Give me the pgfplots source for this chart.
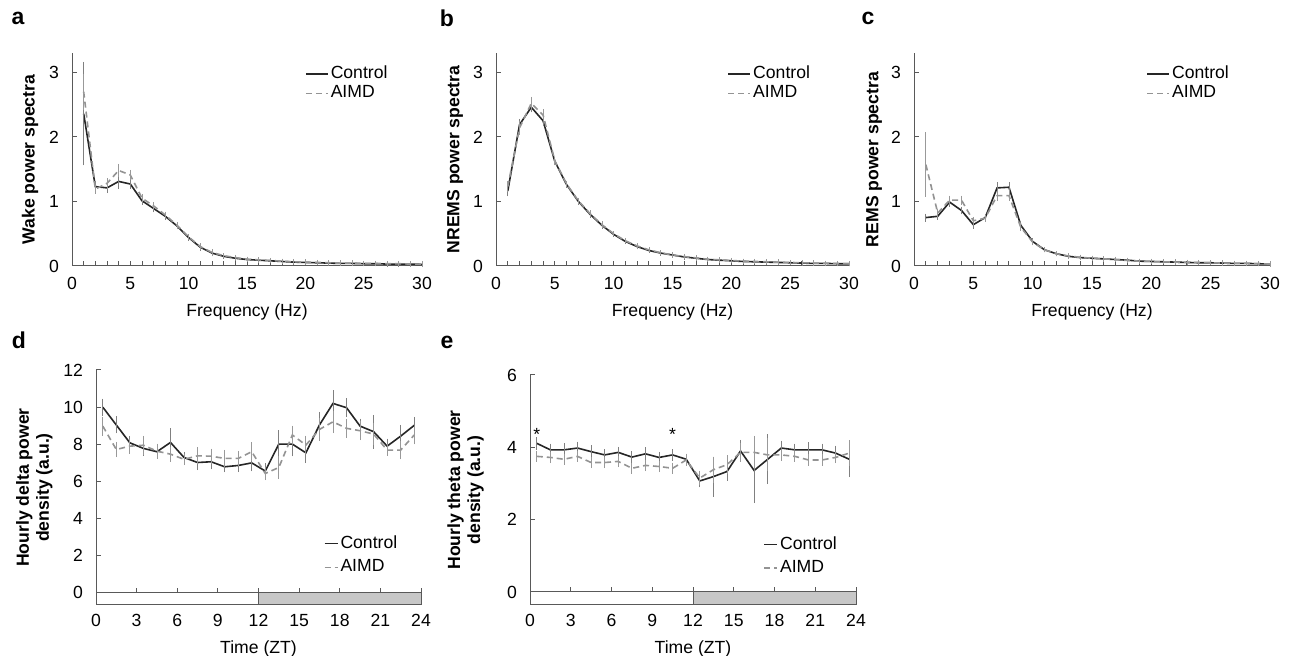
\documentclass[border=0pt]{standalone}
\usepackage{fontspec}
\setmainfont{Liberation Sans}
\usepackage{pgfplots}
\pgfplotsset{compat=1.18}
\newcommand\fnt{\fontsize{8.8}{10}\selectfont}

\pgfplotsset{
  base/.style={scale only axis, axis lines=left, clip=false,
    axis line style={black!65, line width=0.5pt, -},
    tick align=inside, major tick length=2.5pt, minor tick length=2.5pt,
    tick style={black!65, line width=0.5pt},
    tick label style={font=\fnt}, label style={font=\fnt},
    ylabel style={font=\fnt\bfseries, anchor=center},
    yticklabel style={xshift=-3pt},
    /pgf/number format/assume math mode=true,
    legend style={draw=none, fill=none, font=\fnt, inner sep=0pt,
      nodes={inner xsep=1pt, inner ysep=0.6pt}, cells={anchor=west}, anchor=north west}},
  spec/.style={base, width=175pt, height=106.5pt, xmin=0, xmax=30, ymin=0, ymax=3.3,
    xtick={0,5,...,30}, minor x tick num=4, ytick={0,1,2,3},
    xlabel={Frequency (Hz)},
    xticklabel style={yshift=-2pt},
    legend style={row sep=0.9pt},
    legend image code/.code={\draw[##1] (0pt,0pt) -- (11pt,0pt);}},
  hourly/.style={base, xmin=0, xmax=24, xtick={0,3,...,24},
    xlabel={Time (ZT)}, ylabel style={align=center},
    xticklabel style={yshift=-1pt},
    legend style={row sep=3pt},
    legend image code/.code={\draw[##1] (0pt,0pt) -- (6.5pt,0pt);}},
  ctrl/.style={black!85, line width=0.8pt, mark=none,
    error bars/.cd, y dir=both, y explicit,
    error bar style={gray, line width=0.4pt},
    error mark options={gray, mark size=1pt, line width=0.4pt}},
  aimd/.style={gray!85, line width=0.8pt, dash pattern=on 3pt off 2pt, mark=none,
    error bars/.cd, y dir=both, y explicit,
    error bar style={gray!80, line width=0.4pt, solid},
    error mark options={gray!80, mark size=1pt, line width=0.4pt, solid}},
}

\begin{document}
\begin{tikzpicture}
\path[use as bounding box] (0,0) rectangle (646.5pt,328pt);

% a: wake
\begin{axis}[spec, at={(36pt,195pt)}, anchor=south west,
  ylabel={Wake power spectra}, ylabel style={at={(axis description cs:-0.12,0.5)}},
  legend style={at={(0.665,0.947)}}]
\addplot[ctrl] coordinates {
(1,2.36) +- (0,0.77) (2,1.23) +- (0,0.06) (3,1.21) +- (0,0.05) (4,1.31) +- (0,0.08)
(5,1.27) +- (0,0.05) (6,1.01) +- (0,0.03) (7,0.89) +- (0,0.03) (8,0.77) +- (0,0.02)
(9,0.62) +- (0,0.02) (10,0.44) +- (0,0.02) (11,0.29) +- (0,0.02) (12,0.20) +- (0,0.02)
(13,0.15) +- (0,0.01) (14,0.12) +- (0,0.01) (15,0.10) +- (0,0.01) (16,0.09) +- (0,0.01)
(17,0.08) +- (0,0.01) (18,0.07) +- (0,0.01) (19,0.06) +- (0,0.01) (20,0.055) +- (0,0.01)
(21,0.05) +- (0,0.01) (22,0.045) +- (0,0.01) (23,0.04) +- (0,0.01) (24,0.04) +- (0,0.01)
(25,0.035) +- (0,0.01) (26,0.035) +- (0,0.01) (27,0.03) +- (0,0.01) (28,0.03) +- (0,0.01)
(29,0.03) +- (0,0.01) (30,0.025) +- (0,0.01)};
\addlegendentry{Control}
\addplot[aimd] coordinates {
(1,2.70) +- (0,0.25) (2,1.19) +- (0,0.04) (3,1.28) +- (0,0.05) (4,1.48) +- (0,0.07)
(5,1.41) +- (0,0.05) (6,1.05) +- (0,0.03) (7,0.93) +- (0,0.03) (8,0.79) +- (0,0.02)
(9,0.63) +- (0,0.02) (10,0.45) +- (0,0.02) (11,0.30) +- (0,0.02) (12,0.21) +- (0,0.02)
(13,0.16) +- (0,0.01) (14,0.13) +- (0,0.01) (15,0.105) +- (0,0.01) (16,0.095) +- (0,0.01)
(17,0.085) +- (0,0.01) (18,0.075) +- (0,0.01) (19,0.065) +- (0,0.01) (20,0.06) +- (0,0.01)
(21,0.055) +- (0,0.01) (22,0.05) +- (0,0.01) (23,0.045) +- (0,0.01) (24,0.045) +- (0,0.01)
(25,0.04) +- (0,0.01) (26,0.04) +- (0,0.01) (27,0.035) +- (0,0.01) (28,0.035) +- (0,0.01)
(29,0.03) +- (0,0.01) (30,0.03) +- (0,0.01)};
\addlegendentry{AIMD}
\end{axis}

% b: NREMS
\begin{axis}[spec, width=176.5pt, at={(248pt,195pt)}, anchor=south west,
  ylabel={NREMS power spectra}, ylabel style={at={(axis description cs:-0.116,0.5)}},
  legend style={at={(0.655,0.947)}}]
\addplot[ctrl] coordinates {
(1,1.16) +- (0,0.05) (2,2.19) +- (0,0.06) (3,2.46) +- (0,0.05) (4,2.25) +- (0,0.05)
(5,1.62) +- (0,0.03) (6,1.26) +- (0,0.02) (7,1.00) +- (0,0.02) (8,0.80) +- (0,0.02)
(9,0.63) +- (0,0.02) (10,0.49) +- (0,0.01) (11,0.38) +- (0,0.01) (12,0.30) +- (0,0.01)
(13,0.24) +- (0,0.01) (14,0.20) +- (0,0.01) (15,0.17) +- (0,0.01) (16,0.14) +- (0,0.01)
(17,0.12) +- (0,0.01) (18,0.10) +- (0,0.01) (19,0.09) +- (0,0.01) (20,0.08) +- (0,0.01)
(21,0.07) +- (0,0.01) (22,0.065) +- (0,0.01) (23,0.06) +- (0,0.01) (24,0.055) +- (0,0.01)
(25,0.05) +- (0,0.01) (26,0.045) +- (0,0.01) (27,0.04) +- (0,0.01) (28,0.04) +- (0,0.01)
(29,0.035) +- (0,0.01) (30,0.035) +- (0,0.01)};
\addlegendentry{Control}
\addplot[aimd] coordinates {
(1,1.23) +- (0,0.05) (2,2.14) +- (0,0.08) (3,2.52) +- (0,0.07) (4,2.34) +- (0,0.06)
(5,1.63) +- (0,0.03) (6,1.27) +- (0,0.02) (7,1.01) +- (0,0.02) (8,0.81) +- (0,0.02)
(9,0.64) +- (0,0.02) (10,0.50) +- (0,0.01) (11,0.39) +- (0,0.01) (12,0.31) +- (0,0.01)
(13,0.25) +- (0,0.01) (14,0.205) +- (0,0.01) (15,0.17) +- (0,0.01) (16,0.145) +- (0,0.01)
(17,0.125) +- (0,0.01) (18,0.105) +- (0,0.01) (19,0.095) +- (0,0.01) (20,0.085) +- (0,0.01)
(21,0.075) +- (0,0.01) (22,0.07) +- (0,0.01) (23,0.065) +- (0,0.01) (24,0.06) +- (0,0.01)
(25,0.055) +- (0,0.01) (26,0.05) +- (0,0.01) (27,0.045) +- (0,0.01) (28,0.04) +- (0,0.01)
(29,0.04) +- (0,0.01) (30,0.035) +- (0,0.01)};
\addlegendentry{AIMD}
\end{axis}

% c: REMS
\begin{axis}[spec, width=178pt, at={(457pt,195pt)}, anchor=south west,
  ylabel={REMS power spectra}, ylabel style={at={(axis description cs:-0.112,0.5)}},
  legend style={at={(0.652,0.947)}}]
\addplot[ctrl] coordinates {
(1,0.75) +- (0,0.03) (2,0.77) +- (0,0.02) (3,0.99) +- (0,0.04) (4,0.86) +- (0,0.03)
(5,0.64) +- (0,0.03) (6,0.75) +- (0,0.02) (7,1.21) +- (0,0.06) (8,1.22) +- (0,0.05)
(9,0.63) +- (0,0.03) (10,0.38) +- (0,0.02) (11,0.25) +- (0,0.01) (12,0.19) +- (0,0.01)
(13,0.15) +- (0,0.01) (14,0.13) +- (0,0.01) (15,0.12) +- (0,0.01) (16,0.11) +- (0,0.01)
(17,0.10) +- (0,0.01) (18,0.09) +- (0,0.01) (19,0.075) +- (0,0.01) (20,0.07) +- (0,0.01)
(21,0.065) +- (0,0.01) (22,0.06) +- (0,0.01) (23,0.055) +- (0,0.01) (24,0.05) +- (0,0.01)
(25,0.05) +- (0,0.01) (26,0.045) +- (0,0.01) (27,0.04) +- (0,0.01) (28,0.04) +- (0,0.01)
(29,0.035) +- (0,0.01) (30,0.03) +- (0,0.01)};
\addlegendentry{Control}
\addplot[aimd] coordinates {
(1,1.57) +- (0,0.47) (2,0.82) +- (0,0.03) (3,1.02) +- (0,0.04) (4,1.02) +- (0,0.04)
(5,0.70) +- (0,0.03) (6,0.74) +- (0,0.02) (7,1.09) +- (0,0.05) (8,1.09) +- (0,0.05)
(9,0.60) +- (0,0.03) (10,0.37) +- (0,0.02) (11,0.25) +- (0,0.01) (12,0.19) +- (0,0.01)
(13,0.155) +- (0,0.01) (14,0.135) +- (0,0.01) (15,0.12) +- (0,0.01) (16,0.11) +- (0,0.01)
(17,0.10) +- (0,0.01) (18,0.085) +- (0,0.01) (19,0.075) +- (0,0.01) (20,0.07) +- (0,0.01)
(21,0.065) +- (0,0.01) (22,0.06) +- (0,0.01) (23,0.055) +- (0,0.01) (24,0.055) +- (0,0.01)
(25,0.05) +- (0,0.01) (26,0.045) +- (0,0.01) (27,0.04) +- (0,0.01) (28,0.04) +- (0,0.01)
(29,0.035) +- (0,0.01) (30,0.03) +- (0,0.01)};
\addlegendentry{AIMD}
\end{axis}

% d: hourly delta
\begin{axis}[hourly, width=162.5pt, height=117.5pt, at={(48pt,25.5pt)}, anchor=south west,
  ymin=-0.65, ymax=12, ytick={0,2,...,12},
  xtick style={yshift=6.04pt},
  ylabel={Hourly delta power\\density (a.u.)}, ylabel style={at={(axis description cs:-0.19,0.5)}},
  legend style={at={(0.70,0.302)}}]
\addplot[fill=white, draw=black!65, line width=0.5pt, forget plot] coordinates {(0,0) (12,0) (12,-0.65) (0,-0.65)} -- cycle;
\addplot[fill=black!22, draw=black!65, line width=0.5pt, forget plot] coordinates {(12,0) (24,0) (24,-0.65) (12,-0.65)} -- cycle;
\addplot[ctrl] coordinates {
(0.5,10.0) +- (0,0.35) (1.5,9.04) +- (0,0.35) (2.5,8.08) +- (0,0.25) (3.5,7.78) +- (0,0.3)
(4.5,7.60) +- (0,0.25) (5.5,8.10) +- (0,0.65) (6.5,7.29) +- (0,0.2) (7.5,7.02) +- (0,0.3)
(8.5,7.06) +- (0,0.3) (9.5,6.79) +- (0,0.2) (10.5,6.86) +- (0,0.25) (11.5,7.00) +- (0,0.35)
(12.5,6.56) +- (0,0.3) (13.5,8.01) +- (0,0.65) (14.5,8.01) +- (0,0.55) (15.5,7.54) +- (0,0.45)
(16.5,9.04) +- (0,0.6) (17.5,10.2) +- (0,0.6) (18.5,9.97) +- (0,0.4) (19.5,8.98) +- (0,0.3)
(20.5,8.68) +- (0,0.8) (21.5,7.90) +- (0,0.3) (22.5,8.44) +- (0,0.5) (23.5,9.02) +- (0,0.35)};
\addlegendentry{Control}
\addplot[aimd] coordinates {
(0.5,8.98) +- (0,0.4) (1.5,7.72) +- (0,0.3) (2.5,7.90) +- (0,0.3) (3.5,7.95) +- (0,0.4)
(4.5,7.63) +- (0,0.3) (5.5,7.47) +- (0,0.3) (6.5,7.19) +- (0,0.2) (7.5,7.38) +- (0,0.35)
(8.5,7.36) +- (0,0.3) (9.5,7.24) +- (0,0.35) (10.5,7.24) +- (0,0.3) (11.5,7.60) +- (0,0.4)
(12.5,6.43) +- (0,0.25) (13.5,6.75) +- (0,0.5) (14.5,8.50) +- (0,0.4) (15.5,7.96) +- (0,0.4)
(16.5,8.80) +- (0,0.5) (17.5,9.21) +- (0,0.5) (18.5,8.86) +- (0,0.4) (19.5,8.73) +- (0,0.4)
(20.5,8.55) +- (0,0.5) (21.5,7.69) +- (0,0.2) (22.5,7.69) +- (0,0.4) (23.5,8.50) +- (0,0.4)};
\addlegendentry{AIMD}
\end{axis}

% e: hourly theta
\begin{axis}[hourly, width=163pt, height=115pt, at={(265pt,25.5pt)}, anchor=south west,
  ymin=-0.36, ymax=6, ytick={0,2,4,6},
  xtick style={yshift=6.51pt},
  ylabel={Hourly theta power\\density (a.u.)}, ylabel style={at={(axis description cs:-0.198,0.5)}},
  legend style={at={(0.715,0.305)}}]
\addplot[fill=white, draw=black!65, line width=0.5pt, forget plot] coordinates {(0,0) (12,0) (12,-0.36) (0,-0.36)} -- cycle;
\addplot[fill=black!22, draw=black!65, line width=0.5pt, forget plot] coordinates {(12,0) (24,0) (24,-0.36) (12,-0.36)} -- cycle;
\addplot[ctrl] coordinates {
(0.5,4.11) +- (0,0.12) (1.5,3.93) +- (0,0.12) (2.5,3.93) +- (0,0.13) (3.5,3.98) +- (0,0.12)
(4.5,3.88) +- (0,0.12) (5.5,3.79) +- (0,0.1) (6.5,3.86) +- (0,0.1) (7.5,3.73) +- (0,0.1)
(8.5,3.82) +- (0,0.12) (9.5,3.72) +- (0,0.1) (10.5,3.79) +- (0,0.1) (11.5,3.67) +- (0,0.1)
(12.5,3.07) +- (0,0.12) (13.5,3.19) +- (0,0.5) (14.5,3.33) +- (0,0.2) (15.5,3.90) +- (0,0.25)
(16.5,3.36) +- (0,0.85) (17.5,3.67) +- (0,0.63) (18.5,3.98) +- (0,0.15) (19.5,3.93) +- (0,0.12)
(20.5,3.93) +- (0,0.15) (21.5,3.93) +- (0,0.12) (22.5,3.84) +- (0,0.15) (23.5,3.67) +- (0,0.44)};
\addlegendentry{Control}
\addplot[aimd] coordinates {
(0.5,3.75) +- (0,0.1) (1.5,3.72) +- (0,0.1) (2.5,3.67) +- (0,0.1) (3.5,3.75) +- (0,0.1)
(4.5,3.58) +- (0,0.1) (5.5,3.58) +- (0,0.1) (6.5,3.61) +- (0,0.1) (7.5,3.42) +- (0,0.1)
(8.5,3.50) +- (0,0.1) (9.5,3.47) +- (0,0.1) (10.5,3.42) +- (0,0.1) (11.5,3.65) +- (0,0.1)
(12.5,3.15) +- (0,0.15) (13.5,3.38) +- (0,0.3) (14.5,3.52) +- (0,0.2) (15.5,3.86) +- (0,0.2)
(16.5,3.86) +- (0,0.4) (17.5,3.79) +- (0,0.4) (18.5,3.79) +- (0,0.1) (19.5,3.75) +- (0,0.1)
(20.5,3.65) +- (0,0.1) (21.5,3.65) +- (0,0.1) (22.5,3.72) +- (0,0.1) (23.5,3.84) +- (0,0.3)};
\addlegendentry{AIMD}
\node[font=\fnt] at (axis cs:0.5,4.35) {*};
\node[font=\fnt] at (axis cs:10.5,4.35) {*};
\end{axis}

% panel letters
\node[font=\fontsize{11.5}{12}\selectfont\bfseries] at (9pt,319pt) {a};
\node[font=\fontsize{11.5}{12}\selectfont\bfseries] at (223.5pt,319pt) {b};
\node[font=\fontsize{11.5}{12}\selectfont\bfseries] at (434pt,319pt) {c};
\node[font=\fontsize{11.5}{12}\selectfont\bfseries] at (9.5pt,158pt) {d};
\node[font=\fontsize{11.5}{12}\selectfont\bfseries] at (223.5pt,157pt) {e};
\end{tikzpicture}
\end{document}
